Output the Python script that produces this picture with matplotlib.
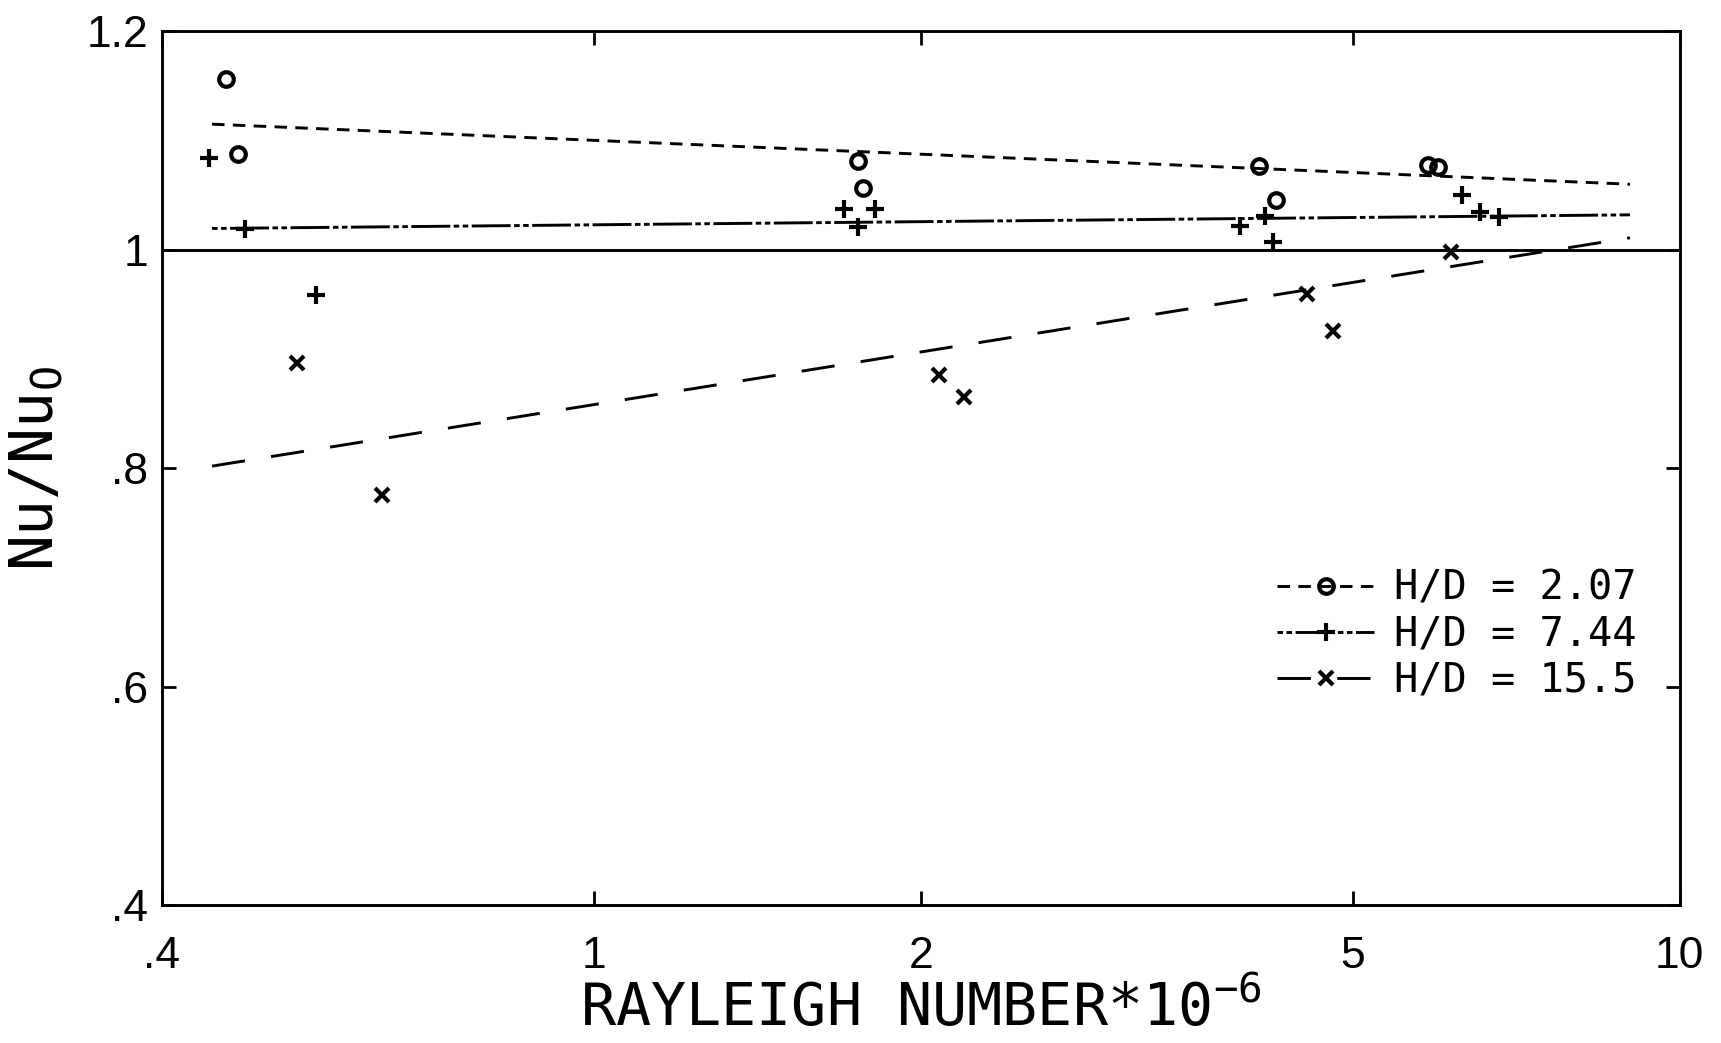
import numpy as np
import matplotlib
matplotlib.use("Agg")
import matplotlib.pyplot as plt
from matplotlib.lines import Line2D

# Nu/Nu0 versus Rayleigh number (x 1e-6), three aspect ratios
ra_o = [0.458, 0.470, 1.75, 1.77, 4.10, 4.25, 5.86, 5.99]
nu_o = [1.156, 1.088, 1.081, 1.057, 1.077, 1.046, 1.078, 1.076]

ra_p = [0.442, 0.477, 0.555, 1.70, 1.75, 1.815, 3.94, 4.15, 4.22, 6.30, 6.55, 6.82]
nu_p = [1.084, 1.019, 0.959, 1.037, 1.021, 1.037, 1.022, 1.031, 1.007, 1.050, 1.035, 1.030]

ra_x = [0.533, 0.638, 2.08, 2.19, 4.54, 4.79, 6.16]
nu_x = [0.896, 0.776, 0.885, 0.865, 0.960, 0.926, 0.998]

# fitted lines (end points)
fit_ra = [0.445, 9.0]
fit_o = [1.115, 1.060]
fit_p = [1.0195, 1.032]
fit_x = [0.802, 1.011]

labels = ["H/D = 2.07", "H/D = 7.44", "H/D = 15.5"]
xticks = [0.4, 1, 2, 5, 10]
xticklabels = [".4", "1", "2", "5", "10"]
yticks = [0.4, 0.6, 0.8, 1.0, 1.2]
yticklabels = [".4", ".6", ".8", "1", "1.2"]

plt.rcParams['lines.scale_dashes'] = False
plt.rcParams['mathtext.fontset'] = 'custom'
plt.rcParams['mathtext.rm'] = 'DejaVu Sans Mono'
plt.rcParams['mathtext.default'] = 'rm'

ls_o = (0, (9, 6))
ls_p = (0, (4, 2.5, 4, 2.5, 28, 2.5))
ls_x = (0, (24, 19))
lw = 2.1

fig = plt.figure(figsize=(17.21, 10.43), dpi=100)
ax = fig.add_axes([0.094, 0.132, 0.882, 0.838])

ax.set_xscale('log')
ax.set_xlim(0.4, 10)
ax.set_ylim(0.4, 1.2)

ax.axhline(1.0, color='black', lw=lw)
ax.plot(fit_ra, fit_o, color='black', lw=lw, ls=ls_o)
ax.plot(fit_ra, fit_p, color='black', lw=lw, ls=ls_p)
ax.plot(fit_ra, fit_x, color='black', lw=lw, ls=ls_x)

ax.plot(ra_o, nu_o, 'o', ms=10.5, mew=3, mfc='none', mec='black')
ax.plot(ra_p, nu_p, '+', ms=13, mew=3, color='black')
ax.plot(ra_x, nu_x, 'x', ms=10.5, mew=3, color='black')

ax.xaxis.set_minor_locator(matplotlib.ticker.NullLocator())
ax.set_xticks(xticks)
ax.set_xticklabels(xticklabels)
ax.set_yticks(yticks)
ax.set_yticklabels(yticklabels)
ax.tick_params(direction='in', length=10, width=2, top=True, right=True,
               labelsize=32)
ax.tick_params(axis='x', pad=22)
ax.tick_params(axis='y', pad=10)
for lab in ax.get_xticklabels() + ax.get_yticklabels():
    lab.set_family('Liberation Sans')
for s in ax.spines.values():
    s.set_linewidth(2.1)

ax.set_xlabel('RAYLEIGH NUMBER*10$^{-6}$', family='DejaVu Sans Mono',
              fontsize=42, labelpad=2)
ax.set_ylabel('Nu/Nu$_{\\mathrm{O}}$', family='DejaVu Sans Mono',
              fontsize=43, labelpad=14)

handles = [
    Line2D([], [], color='black', lw=lw, ls=ls_o, marker='o', ms=10.5, mew=3, mfc='none'),
    Line2D([], [], color='black', lw=lw, ls=ls_p, marker='+', ms=13, mew=3),
    Line2D([], [], color='black', lw=lw, ls=ls_x, marker='x', ms=10.5, mew=3),
]
ax.legend(handles, labels, loc='upper left', bbox_to_anchor=(0.735, 0.385),
          frameon=False, numpoints=1, handlelength=2.4, handletextpad=0.5,
          labelspacing=0.15, borderpad=0, borderaxespad=0,
          prop={'family': 'DejaVu Sans Mono', 'size': 29})

fig.savefig('out.png', dpi=100)
